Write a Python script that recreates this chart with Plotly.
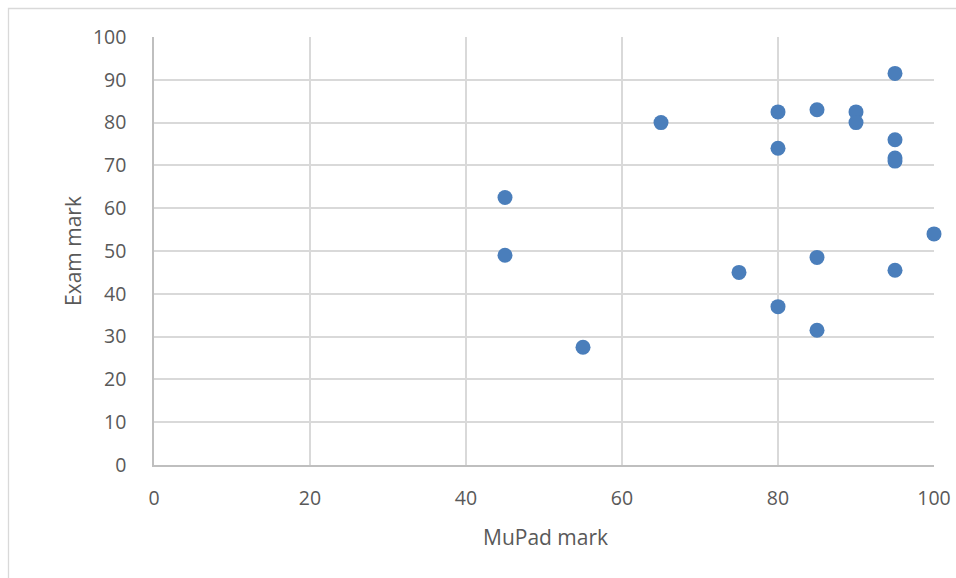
import plotly.graph_objects as go

mupad = [45, 45, 55, 65, 75, 80, 80, 80, 85, 85, 85, 90, 90, 95, 95, 95, 95, 95, 100]
exam = [62.5, 49, 27.5, 80, 45, 82.5, 74, 37, 83, 48.5, 31.5, 82.5, 80, 91.5, 76, 71.7, 71, 45.5, 54]
x_ticks = [0, 20, 40, 60, 80, 100]
y_ticks = list(range(0, 101, 10))

fig = go.Figure(go.Scatter(
    x=mupad, y=exam, mode="markers",
    marker=dict(size=15, color="#4a7ebb"),
    showlegend=False, cliponaxis=False,
))

W, H = 956, 578
l, r, t, b = 154, 22, 37, 113
pw, ph = W - l - r, H - t - b
font = "Open Sans, Liberation Sans, sans-serif"

fig.update_layout(
    width=W, height=H,
    margin=dict(l=l, r=r, t=t, b=b, autoexpand=False),
    paper_bgcolor="white", plot_bgcolor="white",
    font=dict(family=font, color="#595959", size=19.5),
    xaxis=dict(
        range=[0, 100], tickvals=x_ticks, automargin=False,
        showgrid=True, gridcolor="#d9d9d9", gridwidth=1.5,
        showline=True, linecolor="#bfbfbf", linewidth=1.5,
        zeroline=False, ticks="", ticklabelstandoff=15,
    ),
    yaxis=dict(
        range=[0, 100], tickvals=y_ticks, automargin=False,
        showgrid=True, gridcolor="#d9d9d9", gridwidth=1.5,
        showline=True, linecolor="#bfbfbf", linewidth=1.5,
        zeroline=False, ticks="", ticklabelstandoff=22,
    ),
    annotations=[
        dict(text="MuPad mark", xref="paper", yref="paper",
             x=(545 - l) / pw,
             y=-(537 - (H - b)) / ph, showarrow=False,
             font=dict(size=21, color="#595959"), xanchor="center", yanchor="middle"),
        dict(text="Exam mark", xref="paper", yref="paper",
             x=-(l - 73) / pw, y=1 - (251 - t) / ph, showarrow=False,
             textangle=-90, font=dict(size=21, color="#595959"),
             xanchor="center", yanchor="middle"),
    ],
    shapes=[dict(type="rect", xref="paper", yref="paper",
                 x0=-(l - 8.5) / pw, x1=1 + (r + 5) / pw,
                 y0=-(b + 5) / ph, y1=1 + (t - 8.5) / ph,
                 line=dict(color="#d9d9d9", width=1.3), layer="below")],
)

fig.write_html(
    "out.html",
    config={"displayModeBar": False},
    post_script="document.body.style.margin='0';document.body.style.overflow='hidden';",
)
